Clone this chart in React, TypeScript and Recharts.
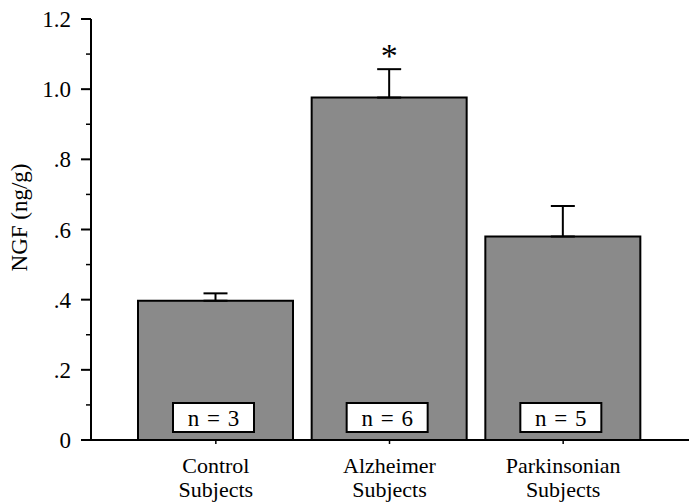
import React from "react";
import { BarChart, Bar, XAxis, YAxis, ErrorBar, LabelList } from "recharts";

const categories = ["Control Subjects", "Alzheimer Subjects", "Parkinsonian Subjects"];
const labelLine1 = ["Control", "Alzheimer", "Parkinsonian"];
const labelLine2 = ["Subjects", "Subjects", "Subjects"];
const meanNGF = [0.397, 0.976, 0.58];
const semNGF = [0.021, 0.081, 0.087];
const nCounts = [3, 6, 5];
const significance = ["", "*", ""];

const yMajorTicks = [0, 0.2, 0.4, 0.6, 0.8, 1.0, 1.2];
const yMajorLabels = ["0", ".2", ".4", ".6", ".8", "1.0", "1.2"];
const yMinorTicks = [0.1, 0.3, 0.5, 0.7, 0.9, 1.1];

const data = categories.map((c, i) => ({
  name: c,
  value: meanNGF[i],
  err: [0, semNGF[i]],
  n: nCounts[i],
  sig: significance[i],
}));

const FONT = "Liberation Serif, Times New Roman, DejaVu Serif, serif";
const txt = (size: number): React.CSSProperties => ({ fontFamily: FONT, fontSize: size, fill: "#000" });

const YTick = (props: any) => {
  const { x, y, payload } = props;
  const idx = yMajorTicks.findIndex((t) => Math.abs(t - payload.value) < 1e-6);
  if (idx >= 0) {
    return (
      <g>
        <line x1={x - 10} x2={x} y1={y} y2={y} stroke="#000" strokeWidth={2} />
        <text x={x - 20} y={y} dy={8} textAnchor="end" style={txt(23)}>
          {yMajorLabels[idx]}
        </text>
      </g>
    );
  }
  return <line x1={x - 5} x2={x} y1={y} y2={y} stroke="#000" strokeWidth={1.5} />;
};

const XTick = (props: any) => {
  const { x, y, index } = props;
  return (
    <g>
      <text x={x} y={y} dy={29} textAnchor="middle" style={txt(22)}>
        {labelLine1[index]}
      </text>
      <text x={x} y={y} dy={53} textAnchor="middle" style={txt(22)}>
        {labelLine2[index]}
      </text>
    </g>
  );
};

const NBox = (props: any) => {
  const { x, y, width, height, value } = props;
  const cx = x + width / 2 - 2;
  const bottom = y + height - 8;
  const bw = 81;
  const bh = 29;
  return (
    <g>
      <rect x={cx - bw / 2} y={bottom - bh} width={bw} height={bh} fill="#fff" stroke="#000" strokeWidth={2} />
      <text x={cx} y={bottom - bh / 2} dy={8} textAnchor="middle" style={{ ...txt(23), wordSpacing: 2 }}>
        {`n = ${value}`}
      </text>
    </g>
  );
};

const Star = (props: any) => {
  const { x, y, width, height, value, index } = props;
  if (!value) return null;
  const d = data[index];
  const pxPerUnit = height / d.value;
  const errTop = y - d.err[1] * pxPerUnit;
  return (
    <text x={x + width / 2} y={errTop - 2} textAnchor="middle" style={txt(34)}>
      {value}
    </text>
  );
};

export default function App() {
  return (
    <div style={{ position: "absolute", left: 0, top: 0, width: 695, height: 502, background: "#fff" }}>
      <BarChart
        width={695}
        height={502}
        data={data}
        margin={{ top: 19, right: 6, bottom: 0, left: 0 }}
      >
        <XAxis
          dataKey="name"
          height={62}
          padding={{ left: 38, right: 39 }}
          axisLine={{ stroke: "#000", strokeWidth: 2 }}
          tickLine={{ stroke: "#000", strokeWidth: 1.5 }}
          tickSize={4}
          tickMargin={0}
          tick={<XTick />}
          interval={0}
        />
        <YAxis
          width={91}
          domain={[0, 1.2]}
          ticks={[...yMajorTicks, ...yMinorTicks].sort((a, b) => a - b)}
          interval={0}
          axisLine={{ stroke: "#000", strokeWidth: 2 }}
          tickLine={false}
          tickSize={0}
          tickMargin={0}
          tick={<YTick />}
          label={{
            value: "NGF (ng/g)",
            angle: -90,
            position: "insideLeft",
            dx: 14,
            dy: -12,
            style: { fontFamily: FONT, fontSize: 23, fill: "#000", textAnchor: "middle" },
          }}
        />
        <Bar
          dataKey="value"
          barSize={155}
          fill="#8a8a8a"
          stroke="#000"
          strokeWidth={2}
          isAnimationActive={false}
        >
          <ErrorBar dataKey="err" width={12} stroke="#000" strokeWidth={2} direction="y" />
          <LabelList dataKey="n" content={<NBox />} />
          <LabelList dataKey="sig" content={<Star />} />
        </Bar>
      </BarChart>
    </div>
  );
}
